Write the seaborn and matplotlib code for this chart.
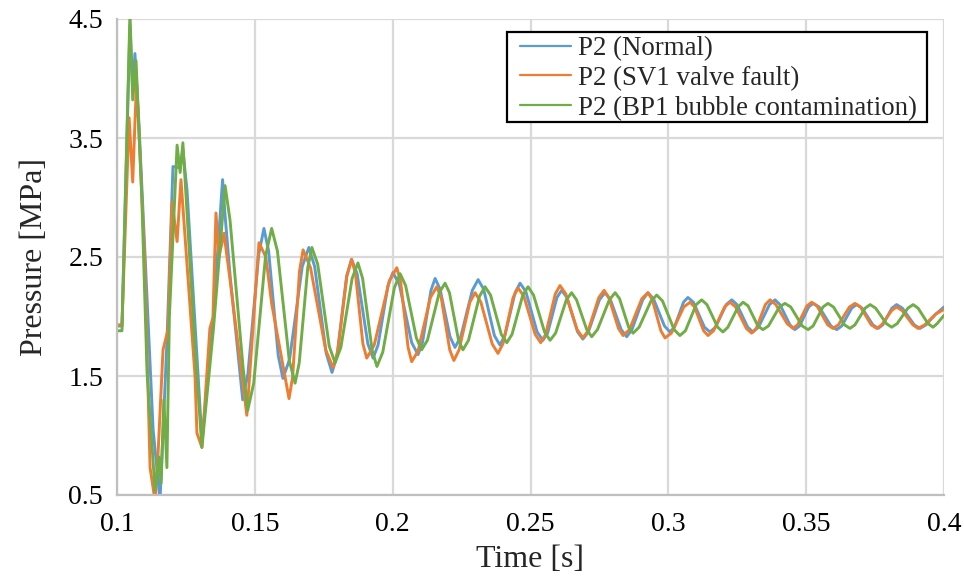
import numpy as np
import pandas as pd
import matplotlib
matplotlib.use("Agg")
import matplotlib.pyplot as plt
from matplotlib.patches import Rectangle
import seaborn as sns

# ---- data ----
t_normal = [0.1000, 0.1018, 0.1047, 0.1057, 0.1065, 0.1080, 0.1131, 0.1156, 0.1181, 0.1203,
            0.1229, 0.1239, 0.1254, 0.1301, 0.1308, 0.1348, 0.1383, 0.1392, 0.1410, 0.1456,
            0.1475, 0.1514, 0.1533, 0.1550, 0.1585, 0.1602, 0.1626, 0.1672, 0.1696,
            0.1717, 0.1759, 0.1780, 0.1798, 0.1833, 0.1851, 0.1871, 0.1910, 0.1929,
            0.1947, 0.1983, 0.2001, 0.2024, 0.2069, 0.2092, 0.2108, 0.2139, 0.2154,
            0.2172, 0.2208, 0.2226, 0.2247, 0.2289, 0.2310, 0.2330, 0.2369, 0.2389,
            0.2407, 0.2444, 0.2462, 0.2483, 0.2524, 0.2545, 0.2562, 0.2596, 0.2613,
            0.2632, 0.2671, 0.2690, 0.2710, 0.2750, 0.2770, 0.2790, 0.2829, 0.2849,
            0.2868, 0.2907, 0.2926, 0.2946, 0.2986, 0.3006, 0.3022, 0.3055, 0.3071,
            0.3091, 0.3131, 0.3151, 0.3171, 0.3210, 0.3230, 0.3249, 0.3288, 0.3307,
            0.3327, 0.3367, 0.3387, 0.3405, 0.3441, 0.3459, 0.3476, 0.3509, 0.3525,
            0.3547, 0.3590, 0.3611, 0.3629, 0.3665, 0.3683, 0.3703, 0.3742, 0.3761,
            0.3778, 0.3811, 0.3828, 0.3849, 0.3892, 0.3913, 0.3935, 0.3970, 0.4000]
p_normal = [1.92, 1.92, 4.45, 3.90, 4.21, 3.60, 1.05, 0.45, 1.78, 3.26,
            3.25, 3.40, 3.06, 1.24, 0.95, 1.95, 3.15, 2.85, 2.35, 1.30,
            1.52, 2.52, 2.74, 2.55, 1.67, 1.48, 1.64, 2.42, 2.58,
            2.42, 1.69, 1.53, 1.67, 2.34, 2.48, 2.36, 1.77, 1.65,
            1.76, 2.26, 2.37, 2.27, 1.78, 1.68, 1.78, 2.22, 2.32,
            2.23, 1.83, 1.74, 1.83, 2.22, 2.31, 2.23, 1.84, 1.76,
            1.84, 2.20, 2.28, 2.21, 1.87, 1.80, 1.86, 2.16, 2.22,
            2.16, 1.87, 1.81, 1.87, 2.14, 2.20, 2.14, 1.89, 1.83,
            1.89, 2.14, 2.20, 2.15, 1.92, 1.87, 1.91, 2.12, 2.16,
            2.12, 1.91, 1.87, 1.91, 2.10, 2.14, 2.10, 1.91, 1.87,
            1.91, 2.10, 2.14, 2.10, 1.93, 1.89, 1.92, 2.08, 2.11,
            2.08, 1.92, 1.89, 1.92, 2.07, 2.10, 2.07, 1.93, 1.90,
            1.93, 2.07, 2.10, 2.07, 1.93, 1.90, 1.93, 2.02, 2.08]

t_valve = [0.1000, 0.1018, 0.1044, 0.1057, 0.1071, 0.1100, 0.1120, 0.1138, 0.1149, 0.1167,
           0.1185, 0.1200, 0.1218, 0.1232, 0.1283, 0.1290, 0.1308, 0.1337, 0.1348, 0.1359,
           0.1370, 0.1388, 0.1410, 0.1471, 0.1515, 0.1540, 0.1561, 0.1624,
           0.1637, 0.1662, 0.1675, 0.1702, 0.1757, 0.1784, 0.1801, 0.1834, 0.1851,
           0.1865, 0.1892, 0.1906, 0.1933, 0.1988, 0.2015, 0.2029, 0.2056, 0.2069,
           0.2092, 0.2137, 0.2160, 0.2176, 0.2207, 0.2222, 0.2241, 0.2280, 0.2299,
           0.2320, 0.2361, 0.2382, 0.2400, 0.2437, 0.2455, 0.2476, 0.2517, 0.2537,
           0.2555, 0.2590, 0.2607, 0.2628, 0.2669, 0.2690, 0.2709, 0.2748, 0.2767,
           0.2784, 0.2819, 0.2836, 0.2859, 0.2904, 0.2926, 0.2942, 0.2973, 0.2988,
           0.3011, 0.3056, 0.3079, 0.3095, 0.3128, 0.3144, 0.3164, 0.3204, 0.3224,
           0.3244, 0.3283, 0.3302, 0.3319, 0.3352, 0.3369, 0.3390, 0.3431, 0.3452,
           0.3469, 0.3503, 0.3520, 0.3539, 0.3578, 0.3597, 0.3617, 0.3657, 0.3677,
           0.3697, 0.3736, 0.3756, 0.3774, 0.3810, 0.3828, 0.3848, 0.3887, 0.3906,
           0.3930, 0.3970, 0.4000]
p_valve = [1.93, 1.93, 3.67, 3.13, 3.99, 2.50, 0.73, 0.45, 0.85, 1.72,
           1.89, 2.96, 2.63, 3.15, 1.50, 1.02, 0.90, 1.90, 1.99, 2.87,
           2.50, 2.70, 2.31, 1.17, 2.62, 2.50, 2.11, 1.31,
           1.49, 2.38, 2.56, 2.41, 1.72, 1.57, 1.71, 2.34, 2.48,
           2.36, 1.77, 1.65, 1.76, 2.30, 2.41, 2.29, 1.74, 1.62,
           1.71, 2.16, 2.25, 2.16, 1.72, 1.63, 1.72, 2.12, 2.20,
           2.12, 1.77, 1.69, 1.77, 2.16, 2.24, 2.17, 1.85, 1.78,
           1.85, 2.19, 2.26, 2.19, 1.89, 1.82, 1.88, 2.16, 2.22,
           2.16, 1.90, 1.84, 1.89, 2.15, 2.20, 2.14, 1.88, 1.82,
           1.86, 2.08, 2.12, 2.08, 1.88, 1.84, 1.88, 2.08, 2.12,
           2.08, 1.90, 1.86, 1.90, 2.10, 2.14, 2.10, 1.94, 1.90,
           1.93, 2.09, 2.12, 2.09, 1.93, 1.90, 1.93, 2.08, 2.11,
           2.08, 1.93, 1.90, 1.93, 2.05, 2.08, 2.05, 1.93, 1.90,
           1.93, 2.02, 2.06]

t_bubble = [0.1000, 0.1018, 0.1047, 0.1057, 0.1069, 0.1090, 0.1109, 0.1138, 0.1152, 0.1160,
            0.1170, 0.1181, 0.1190, 0.1218, 0.1229, 0.1239, 0.1283, 0.1308, 0.1350, 0.1392,
            0.1410, 0.1457, 0.1474,
            0.1496, 0.1539, 0.1561, 0.1582, 0.1625, 0.1646, 0.1661, 0.1692, 0.1707,
            0.1728, 0.1770, 0.1791, 0.1812, 0.1853, 0.1874, 0.1891, 0.1926, 0.1943,
            0.1964, 0.2006, 0.2027, 0.2047, 0.2086, 0.2105, 0.2126, 0.2169, 0.2190,
            0.2206, 0.2239, 0.2255, 0.2275, 0.2315, 0.2335, 0.2355, 0.2394, 0.2414,
            0.2433, 0.2472, 0.2491, 0.2511, 0.2551, 0.2571, 0.2591, 0.2630, 0.2649,
            0.2667, 0.2704, 0.2722, 0.2743, 0.2786, 0.2807, 0.2823, 0.2856, 0.2872,
            0.2894, 0.2937, 0.2958, 0.2979, 0.3021, 0.3042, 0.3062, 0.3101, 0.3121,
            0.3140, 0.3179, 0.3198, 0.3216, 0.3253, 0.3271, 0.3289, 0.3325, 0.3343,
            0.3363, 0.3403, 0.3423, 0.3444, 0.3486, 0.3507, 0.3525, 0.3561, 0.3579,
            0.3599, 0.3639, 0.3659, 0.3677, 0.3714, 0.3732, 0.3752, 0.3791, 0.3810,
            0.3830, 0.3869, 0.3888, 0.3906, 0.3942, 0.3960, 0.3975, 0.4000]
p_bubble = [1.88, 1.88, 4.55, 3.82, 4.15, 3.00, 1.53, 0.54, 0.82, 0.60,
            1.30, 0.73, 2.00, 3.44, 3.21, 3.46, 1.74, 0.90, 1.90, 3.10,
            2.81, 1.58, 1.21,
            1.44, 2.51, 2.74, 2.55, 1.63, 1.44, 1.61, 2.41, 2.58,
            2.44, 1.75, 1.61, 1.74, 2.32, 2.45, 2.32, 1.71, 1.58,
            1.70, 2.24, 2.36, 2.26, 1.82, 1.72, 1.80, 2.20, 2.28,
            2.20, 1.80, 1.72, 1.80, 2.17, 2.25, 2.18, 1.85, 1.78,
            1.85, 2.18, 2.25, 2.18, 1.87, 1.80, 1.86, 2.14, 2.20,
            2.14, 1.89, 1.83, 1.89, 2.14, 2.20, 2.15, 1.91, 1.86,
            1.91, 2.13, 2.18, 2.13, 1.89, 1.84, 1.88, 2.10, 2.14,
            2.10, 1.91, 1.87, 1.91, 2.08, 2.12, 2.09, 1.92, 1.89,
            1.92, 2.08, 2.11, 2.08, 1.92, 1.89, 1.92, 2.08, 2.11,
            2.08, 1.93, 1.90, 1.93, 2.07, 2.10, 2.07, 1.94, 1.91,
            1.94, 2.07, 2.10, 2.07, 1.94, 1.91, 1.94, 2.01]

series_names = ["P2 (Normal)", "P2 (SV1 valve fault)", "P2 (BP1 bubble contamination)"]
x_ticks = [0.1, 0.15, 0.2, 0.25, 0.3, 0.35, 0.4]
x_tick_labels = ["0.1", "0.15", "0.2", "0.25", "0.3", "0.35", "0.4"]
y_ticks = [0.5, 1.5, 2.5, 3.5, 4.5]
y_tick_labels = ["0.5", "1.5", "2.5", "3.5", "4.5"]

# ---- build long-form table ----
frames = []
for name, t, p in zip(series_names, [t_normal, t_valve, t_bubble], [p_normal, p_valve, p_bubble]):
    frames.append(pd.DataFrame({"Time": t, "Pressure": p, "Series": name}))
df = pd.concat(frames, ignore_index=True)

sns.set_theme(style="white")
plt.rcParams["font.family"] = ["Liberation Serif", "DejaVu Serif"]

W, H = 964, 578
fig = plt.figure(figsize=(W / 100, H / 100), dpi=100)
ax = fig.add_axes([117 / W, 1 - 495 / H, (944 - 117) / W, (495 - 19) / H])

palette = {series_names[0]: "#5B9BD5", series_names[1]: "#ED7D31", series_names[2]: "#70AD47"}
sns.lineplot(data=df, x="Time", y="Pressure", hue="Series", palette=palette,
             estimator=None, sort=False, linewidth=2.1, ax=ax)

ax.set_xlim(0.1, 0.4)
ax.set_ylim(0.5, 4.5)
ax.set_xticks(x_ticks)
ax.set_xticklabels(x_tick_labels)
ax.set_yticks(y_ticks)
ax.set_yticklabels(y_tick_labels)
ax.tick_params(axis="both", labelsize=20, length=0, colors="black")
ax.tick_params(axis="x", pad=12)
ax.tick_params(axis="y", pad=10)
ax.grid(True, color="#d9d9d9", linewidth=1.6)
ax.set_axisbelow(True)
for s in ["top", "right"]:
    ax.spines[s].set_visible(False)
for s in ["left", "bottom"]:
    ax.spines[s].set_color("#bfbfbf")
    ax.spines[s].set_linewidth(1.6)

ax.set_xlabel("Time [s]", fontsize=23, labelpad=6)
ax.set_ylabel("Pressure [MPa]", fontsize=23, labelpad=14)

# legend box (frame drawn at its place in the reference)
frame = Rectangle((507 / W, 1 - 122 / H), (927 - 507) / W, (122 - 32) / H,
                  transform=fig.transFigure, facecolor="white", edgecolor="black",
                  linewidth=1.6, zorder=4)
ax.add_artist(frame)
leg = ax.legend(loc="upper left", bbox_to_anchor=(520 / W, 1 - 36 / H),
                bbox_transform=fig.transFigure, borderaxespad=0, fontsize=19.4,
                frameon=False, handlelength=1.9, handletextpad=0.25,
                labelspacing=0.18, borderpad=0, title=None)
leg.set_zorder(5)
for line in leg.get_lines():
    line.set_linewidth(1.6)

fig.savefig("out.png", dpi=100)
